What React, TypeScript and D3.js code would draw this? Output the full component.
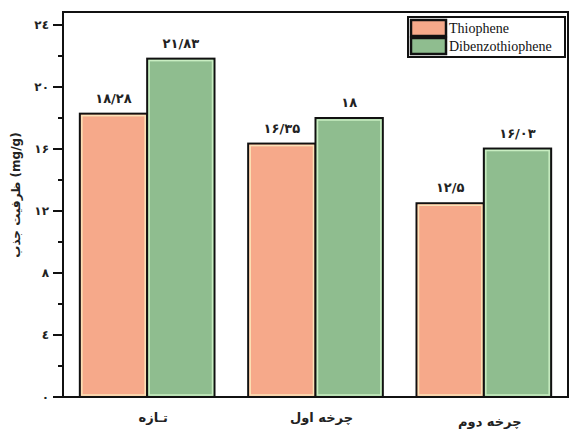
import React from "react";
import * as d3 from "d3";

const categories = ["تـازه", "چرخه اول", "چرخه دوم"];
const seriesNames = ["Thiophene", "Dibenzothiophene"];
const thiophene = [18.28, 16.35, 12.5];
const dibenzothiophene = [21.83, 18, 16.03];
const thiopheneLabels = ["۱۸/۲۸", "۱۶/۳۵", "۱۲/۵"];
const dibenzothiopheneLabels = ["۲۱/۸۳", "۱۸", "۱۶/۰۳"];
const yTicks = [0, 4, 8, 12, 16, 20, 24];
const yTickLabels = ["۰", "٤", "۸", "۱۲", "۱۶", "۲۰", "۲٤"];
const yMinorTicks = [2, 6, 10, 14, 18, 22];

const W = 571;
const H = 429;
const left = 63;
const right = 568;
const top = 12;
const bottom = 397;

const fills = ["#F6A98A", "#8FBD8F"];
const glows = ["#FBE3B8", "#C9EEC2"];

export default function App() {
  const x = d3
    .scaleBand<string>()
    .domain(categories)
    .range([left, right])
    .paddingInner(0.2)
    .paddingOuter(0.1);
  const inner = d3
    .scaleBand<string>()
    .domain(seriesNames)
    .range([0, x.bandwidth()]);
  const y = d3.scaleLinear().domain([0, 24]).range([bottom, 25]);

  const series = [
    { name: seriesNames[0], values: thiophene, labels: thiopheneLabels },
    { name: seriesNames[1], values: dibenzothiophene, labels: dibenzothiopheneLabels },
  ];

  const persian = "'DejaVu Sans', sans-serif";

  return (
    <svg
      width={W}
      height={H}
      style={{ position: "absolute", left: 0, top: 0, background: "#fff" }}
    >
      {/* bars */}
      {series.map((s, si) =>
        s.values.map((v, ci) => {
          const bx = (x(categories[ci]) ?? 0) + (inner(s.name) ?? 0);
          const bw = inner.bandwidth();
          const by = y(v);
          const bh = bottom - by;
          return (
            <g key={`${si}-${ci}`}>
              <rect x={bx} y={by} width={bw} height={bh} fill={fills[si]} stroke="#111" strokeWidth={2} />
              <rect
                x={bx + 2}
                y={by + 2}
                width={bw - 4}
                height={bh - 4}
                fill="none"
                stroke={glows[si]}
                strokeWidth={1.5}
              />
              <text
                x={bx + bw / 2}
                y={by - 11}
                textAnchor="middle"
                fontFamily={persian}
                fontWeight="bold"
                fontSize={13}
                fill="#222"
              >
                {s.labels[ci]}
              </text>
            </g>
          );
        })
      )}

      {/* frame */}
      <rect x={left} y={top} width={right - left} height={bottom - top} fill="none" stroke="#111" strokeWidth={2} />

      {/* y ticks */}
      {yTicks.map((t, i) => (
        <g key={t}>
          <line x1={left - 10} x2={left} y1={y(t)} y2={y(t)} stroke="#111" strokeWidth={2} />
          <text
            x={left - 14}
            y={y(t)}
            dy="0.35em"
            textAnchor="end"
            fontFamily={persian}
            fontWeight="bold"
            fontSize={12}
            fill="#222"
          >
            {yTickLabels[i]}
          </text>
        </g>
      ))}
      {yMinorTicks.map((t) => (
        <line key={t} x1={left - 5} x2={left} y1={y(t)} y2={y(t)} stroke="#111" strokeWidth={2} />
      ))}

      {/* y axis title */}
      <text
        transform={`translate(16,${195}) rotate(-90)`}
        textAnchor="middle"
        dy="0.35em"
        fontFamily={persian}
        fontWeight="bold"
        fontSize={12}
        fill="#222"
      >
        {"ظرفیت جذب (mg/g)"}
      </text>

      {/* x labels */}
      {categories.map((c, i) => (
        <text
          key={c}
          x={(x(c) ?? 0) + x.bandwidth() / 2 + 6}
          y={i === 2 ? 421 : 417}
          dy="0.35em"
          textAnchor="middle"
          fontFamily={persian}
          fontWeight="bold"
          fontSize={13}
          fill="#222"
        >
          {c}
        </text>
      ))}

      {/* legend */}
      <g>
        <rect x={408} y={17} width={157} height={40} fill="#fff" stroke="#111" strokeWidth={2} />
        {seriesNames.map((n, i) => (
          <g key={n}>
            <rect x={411} y={20 + i * 18} width={35} height={16} fill={fills[i]} stroke="#111" strokeWidth={2.5} />
            <text
              x={449}
              y={28 + i * 18}
              dy="0.35em"
              fontFamily="'Liberation Serif', 'Times New Roman', serif"
              fontSize={14}
              fill="#111"
            >
              {n}
            </text>
          </g>
        ))}
      </g>
    </svg>
  );
}
